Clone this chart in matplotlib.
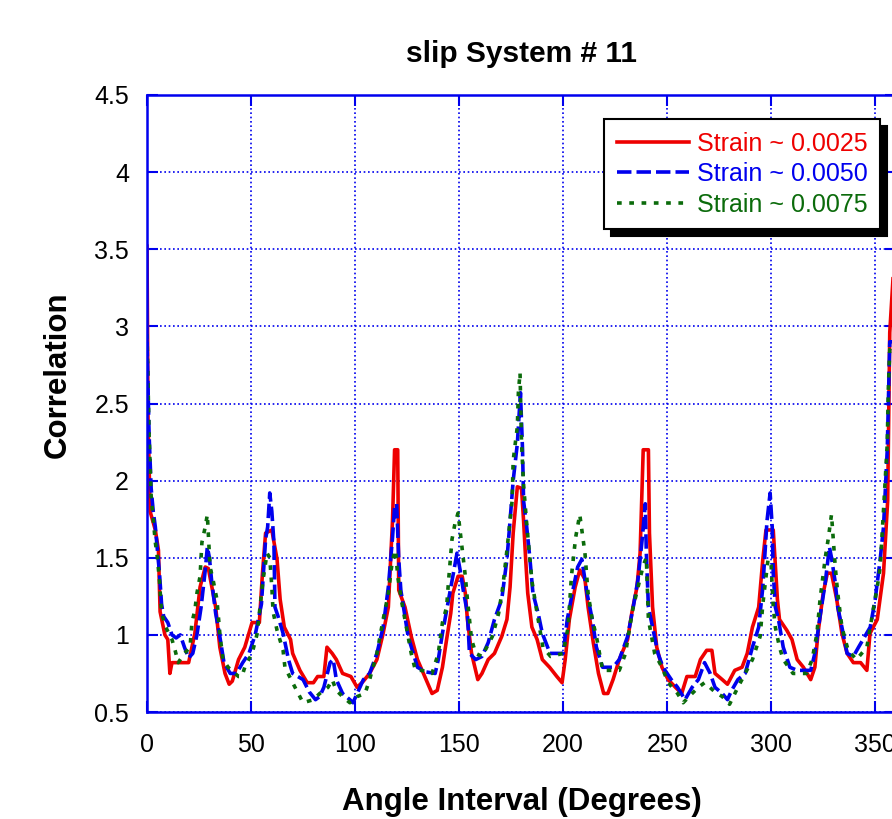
import numpy as np
import matplotlib
matplotlib.use("Agg")
from matplotlib import pyplot as plt

plt.rcParams['font.family'] = ['Liberation Sans', 'DejaVu Sans']

# Strain ~ 0.0025 (red)
ang_r = [0, 0.5, 1.5, 4, 5.5, 6.3, 8.6, 10, 11, 12, 20, 23, 25.5, 28, 29.5, 33, 35, 37.5, 39.5, 41,
         44, 47, 50.5, 54, 55.5, 57, 60, 62.5, 64, 66, 69, 70, 73.5, 77, 80, 82, 85, 86.5, 89, 91,
         94, 98, 101, 104, 107, 110.5, 113.5, 116, 118, 119, 120.5, 121, 124, 127, 130, 133.5, 137, 139.5, 142, 144,
         146, 147, 149.5, 151.5, 153, 154, 156, 159, 161, 164, 167, 170.5, 173, 174.5, 176, 178, 180, 181, 182, 183,
         185, 187.5, 190, 193.5, 197, 199.5, 201, 203, 205.8, 208, 210.5, 212, 214.5, 217, 219.5, 221.5, 224, 227, 231, 233,
         235.5, 237, 238.5, 241, 241.5, 243, 245, 247.5, 250.5, 254, 257, 259.5, 263.5, 266, 269, 271.5, 273, 276.5, 279, 282.5,
         286, 288.5, 291, 294, 296, 297.5, 301, 303, 304, 307.5, 310, 312.5, 315.5, 319, 321, 322.5, 325, 327, 329, 331.5,
         334, 336.5, 339.5, 343, 346, 347.5, 351, 354, 356, 357, 358.5, 360]
val_r = [3.52, 2.4, 1.8, 1.68, 1.55, 1.15, 1.0, 0.97, 0.75, 0.82, 0.82, 1.01, 1.31, 1.44, 1.43, 1.18, 0.92, 0.75, 0.68, 0.7,
         0.84, 0.92, 1.08, 1.08, 1.4, 1.66, 1.68, 1.49, 1.23, 1.05, 0.97, 0.88, 0.77, 0.69, 0.69, 0.73, 0.73, 0.92, 0.88, 0.84,
         0.75, 0.73, 0.66, 0.7, 0.75, 0.84, 1.01, 1.18, 1.74, 2.2, 2.2, 1.29, 1.18, 0.99, 0.84, 0.73, 0.62, 0.64, 0.79, 0.97,
         1.14, 1.27, 1.38, 1.38, 1.27, 1.1, 0.88, 0.71, 0.75, 0.84, 0.88, 0.99, 1.1, 1.31, 1.66, 1.96, 1.95, 1.74, 1.49, 1.27,
         1.05, 0.97, 0.84, 0.79, 0.73, 0.69, 0.84, 1.1, 1.31, 1.42, 1.36, 1.18, 0.95, 0.75, 0.62, 0.62, 0.71, 0.84, 0.97, 1.14,
         1.31, 1.53, 2.2, 2.2, 1.66, 1.18, 0.92, 0.79, 0.71, 0.66, 0.62, 0.73, 0.73, 0.84, 0.9, 0.9, 0.75, 0.71, 0.68, 0.77,
         0.79, 0.88, 1.05, 1.18, 1.49, 1.68, 1.68, 1.23, 1.1, 1.03, 0.97, 0.84, 0.79, 0.71, 0.79, 1.01, 1.27, 1.4, 1.4, 1.23,
         1.01, 0.88, 0.82, 0.82, 0.77, 1.01, 1.1, 1.4, 1.87, 2.96, 3.3, 3.52]

# Strain ~ 0.0050 (blue)
ang_b = [0, 1, 2, 3, 4, 5, 6, 7, 8, 10, 12, 14, 16, 18, 20, 22, 24, 26, 28, 29,
         30, 31, 33, 35, 37, 40, 43, 46, 49, 52, 55, 57, 58, 59, 60, 61, 61.5, 63, 65.4, 68,
         70, 75, 78, 81, 83, 85, 88, 89.5, 91, 94, 97.5, 99, 101, 104, 107, 110.5, 113.5, 116, 118, 119,
         120, 121, 122, 124, 125.5, 128, 130, 134, 138.5, 140, 142, 145, 147, 149, 150.5, 152, 154, 155, 158, 161,
         164, 167, 170.5, 173, 174.5, 176, 178, 179.5, 180.5, 181, 182.5, 184, 185.5, 188, 190, 193.7, 197, 200, 202, 205,
         207, 209, 211.5, 214, 216, 219, 224, 227, 231, 233.7, 236, 238, 239.5, 240, 241, 243, 245.6, 248, 252, 255,
         258.6, 262, 265, 268, 270.7, 273, 276.5, 279, 281, 284, 287.5, 291, 294, 296, 298, 299.5, 300.5, 301, 302, 303.5,
         305.8, 309, 312.5, 316, 319, 321, 323.5, 326, 328, 329, 330.8, 332, 334, 336.5, 339.5, 342, 345, 347.6, 350, 352.4,
         354, 355.8, 357, 360]
val_b = [2.9, 2.3, 1.95, 1.8, 1.7, 1.55, 1.4, 1.2, 1.12, 1.08, 1.0, 0.98, 1.0, 0.92, 0.85, 0.88, 1.0, 1.18, 1.42, 1.57,
         1.5, 1.36, 1.14, 0.99, 0.82, 0.75, 0.75, 0.82, 0.88, 1.0, 1.2, 1.62, 1.7, 1.92, 1.8, 1.6, 1.18, 1.12, 1.01, 0.84,
         0.75, 0.71, 0.63, 0.58, 0.6, 0.66, 0.82, 0.84, 0.71, 0.62, 0.58, 0.56, 0.62, 0.71, 0.75, 0.88, 1.05, 1.31, 1.63, 1.83,
         1.85, 1.49, 1.29, 1.12, 0.99, 0.88, 0.79, 0.76, 0.75, 0.84, 1.01, 1.23, 1.38, 1.53, 1.42, 1.29, 1.14, 0.88, 0.84, 0.86,
         0.95, 1.1, 1.23, 1.49, 1.74, 2.0, 2.24, 2.57, 2.2, 1.87, 1.7, 1.5, 1.27, 1.14, 1.01, 0.88, 0.88, 0.88, 1.1, 1.31,
         1.44, 1.49, 1.27, 1.1, 0.92, 0.79, 0.79, 0.84, 0.99, 1.18, 1.36, 1.62, 1.85, 1.53, 1.18, 1.05, 0.88, 0.79, 0.71, 0.66,
         0.58, 0.66, 0.71, 0.82, 0.75, 0.66, 0.62, 0.58, 0.64, 0.71, 0.75, 0.92, 1.05, 1.31, 1.74, 1.92, 1.7, 1.4, 1.18, 1.1,
         0.92, 0.79, 0.77, 0.77, 0.77, 0.88, 1.12, 1.34, 1.57, 1.5, 1.34, 1.18, 1.05, 0.88, 0.86, 0.92, 0.99, 1.05, 1.23, 1.49,
         1.7, 2.2, 2.9, 2.9]

# Strain ~ 0.0075 (green)
ang_g = [0, 1, 2, 3, 4, 5, 6, 7, 9, 12, 13.5, 15, 18, 20.7, 21.6, 23, 24, 25.5, 26.4, 28,
         29, 30.3, 31.7, 33.6, 35, 36.5, 39, 44, 45.6, 47, 50.5, 53, 54, 55.8, 57.7, 59, 60, 60.6, 62.5, 65.4,
         66.3, 70, 75, 80, 83, 87, 89, 91, 94, 97.5, 101, 104.8, 107, 110.5, 113.5, 116, 118, 119.5, 120.5, 122.6,
         125.5, 127, 129, 132, 137, 140, 142, 144, 145, 146.6, 148, 149.5, 151.4, 153, 154, 156, 158, 161, 166, 169,
         171, 173, 174.5, 175.5, 176, 178, 178.5, 179.3, 180, 181, 182.5, 185, 187.5, 190.3, 194, 200, 202.4, 204, 206, 208,
         210.5, 212, 214, 216, 219, 227, 230, 232, 233.7, 236, 238.5, 240, 241, 244, 247.5, 250.5, 255, 257.7, 262, 265,
         268, 273, 276.5, 280, 284, 287.5, 291, 294.7, 296, 298.5, 300, 301, 302, 304, 305.8, 310.5, 317, 319.7, 322, 323.5,
         326, 327.4, 329, 330.8, 332, 334, 337, 341, 343.5, 346, 349, 351, 352.4, 354, 355.8, 356.3, 357, 360]
val_g = [2.95, 2.3, 1.9, 1.75, 1.6, 1.5, 1.35, 1.14, 1.05, 0.97, 0.9, 0.82, 0.88, 0.92, 1.08, 1.16, 1.27, 1.38, 1.6, 1.7,
         1.78, 1.44, 1.36, 1.23, 1.01, 0.84, 0.79, 0.73, 0.73, 0.79, 0.88, 1.01, 1.14, 1.36, 1.53, 1.5, 1.31, 1.15, 1.03, 0.9,
         0.79, 0.69, 0.56, 0.58, 0.62, 0.66, 0.71, 0.64, 0.6, 0.56, 0.6, 0.62, 0.71, 0.88, 1.1, 1.27, 1.49, 1.55, 1.38, 1.2,
         0.99, 0.88, 0.77, 0.77, 0.75, 0.88, 1.08, 1.18, 1.36, 1.62, 1.72, 1.79, 1.57, 1.38, 1.23, 0.97, 0.88, 0.86, 0.99, 1.14,
         1.31, 1.55, 1.74, 1.87, 2.13, 2.35, 2.57, 2.7, 2.25, 1.97, 1.72, 1.35, 1.14, 0.92, 0.86, 0.88, 1.05, 1.38, 1.63, 1.78,
         1.53, 1.27, 1.1, 0.99, 0.77, 0.77, 0.88, 1.05, 1.18, 1.31, 1.45, 1.5, 1.1, 0.88, 0.79, 0.69, 0.62, 0.56, 0.62, 0.66,
         0.69, 0.63, 0.6, 0.55, 0.66, 0.75, 0.84, 0.99, 1.2, 1.49, 1.45, 1.18, 1.05, 0.92, 0.84, 0.75, 0.75, 0.84, 1.01, 1.23,
         1.5, 1.62, 1.78, 1.44, 1.27, 1.05, 0.9, 0.84, 0.88, 0.92, 1.16, 1.31, 1.44, 1.81, 2.24, 2.59, 2.85, 2.95]

labels = ["Strain ~ 0.0025", "Strain ~ 0.0050", "Strain ~ 0.0075"]
xticks = [0, 50, 100, 150, 200, 250, 300, 350]
yticks = [0.5, 1, 1.5, 2, 2.5, 3, 3.5, 4, 4.5]

fig = plt.figure(figsize=(8.92, 8.19), dpi=100)
ax = fig.add_axes([147/892, 1-712/819, 749/892, 617/819])

ax.plot(ang_r, val_r, color="#ee0000", lw=2.6, label=labels[0])
ax.plot(ang_b, val_b, color="#0000ee", lw=2.6, dashes=(4.0, 1.4), label=labels[1])
ax.plot(ang_g, val_g, color="#0b6b0b", lw=2.6, dashes=(1.3, 2.1), label=labels[2])

ax.set_xlim(0, 360)
ax.set_ylim(0.5, 4.5)
ax.set_xticks(xticks)
ax.set_yticks(yticks)
ax.set_yticklabels([("%g" % v) for v in yticks])
ax.grid(True, color="#0000ee", linestyle=(0, (1, 1.6)), linewidth=1.2)
ax.tick_params(direction="in", length=8, width=1.5, color="#0000ee", labelsize=18,
               top=True, right=True)
ax.tick_params(axis="x", pad=15)
ax.tick_params(axis="y", pad=13)
for s in ax.spines.values():
    s.set_color("#0000ee")
    s.set_linewidth(1.8)

ax.set_title("slip System # 11", fontsize=21.5, fontweight="bold", pad=24)
ax.set_xlabel("Angle Interval (Degrees)", fontsize=22.5, fontweight="bold", labelpad=22)
ax.set_ylabel("Correlation", fontsize=22.5, fontweight="bold")
ax.yaxis.set_label_coords(-0.099, 0.546)

leg = ax.legend(loc="upper right", bbox_to_anchor=(0.995, 0.981), fontsize=18,
                labelcolor="linecolor", handlelength=2.9, handletextpad=0.3,
                borderpad=0.5, labelspacing=0.26, fancybox=False,
                shadow={"color": "black", "alpha": 1, "ox": 5, "oy": -5},
                framealpha=1)
leg.get_frame().set_edgecolor("black")
leg.get_frame().set_linewidth(1.5)

fig.savefig("out.png", dpi=100)
